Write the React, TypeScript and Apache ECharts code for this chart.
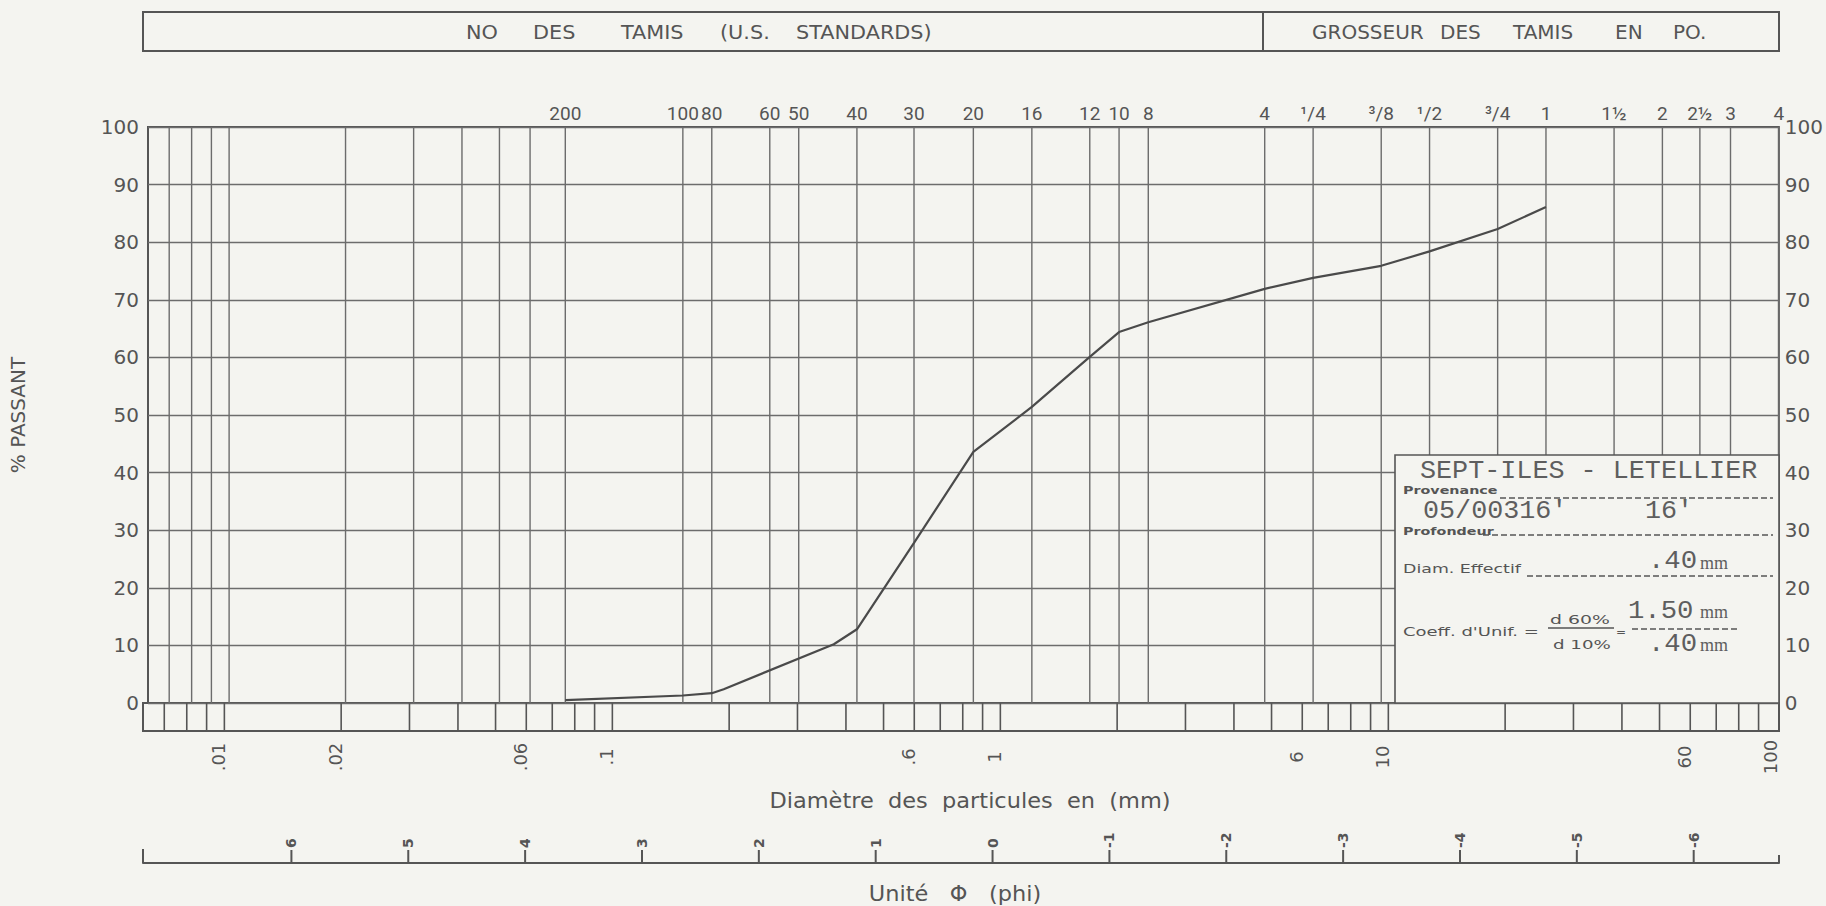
import React, { useEffect, useRef } from "react";
import * as echarts from "echarts";

const BG = "#f4f4f0";
const INK = "#555555";
const GRID_COLOR = "#6c6c6c";
const SANS = "DejaVu Sans";
const LABEL_SANS = "Roboto";
const MONO = "Liberation Mono";
const SERIF = "Liberation Serif";

// axis ranges
const X_MIN = 0.00617; // mm, left edge of the chart
const X_MAX = 101.6; // mm (4 in.), right edge
const PHI_MIN = -6.73;
const PHI_MAX = 7.27;

// fine log grid lines in the main plot (mm)
const fineGridDiam = [0.007, 0.008, 0.009, 0.01, 0.02, 0.03, 0.04, 0.05, 0.06];

// sieve numbers (U.S. standards) and sieve sizes in inches
const sieveLabels = ["200", "100", "80", "60", "50", "40", "30", "20", "16", "12", "10", "8", "4", "¹/4", "³/8", "¹/2", "³/4", "1", "1½", "2", "2½", "3", "4"];
const sieveDiam = [0.074, 0.149, 0.177, 0.25, 0.297, 0.42, 0.59, 0.84, 1.19, 1.68, 2.0, 2.38, 4.76, 6.35, 9.525, 12.7, 19.05, 25.4, 38.1, 50.8, 63.5, 76.2, 101.6];

// log ticks of the bottom strip (mm)
const stripDiam = [0.007, 0.008, 0.009, 0.01, 0.02, 0.03, 0.04, 0.05, 0.06, 0.07, 0.08, 0.09, 0.1, 0.2, 0.3, 0.4, 0.5, 0.6, 0.7, 0.8, 0.9, 1, 2, 3, 4, 5, 6, 7, 8, 9, 10, 20, 30, 40, 50, 60, 70, 80, 90];

// labelled diameters below the strip
const mmLabels = [".01", ".02", ".06", ".1", ".6", "1", "6", "10", "60", "100"];
const mmLabelDiam = [0.01, 0.02, 0.06, 0.1, 0.6, 1, 6, 10, 60, 100];

// phi scale
const phiValues = [6, 5, 4, 3, 2, 1, 0, -1, -2, -3, -4, -5, -6];
const phiLabels = ["6", "5", "4", "3", "2", "1", "0", "-1", "-2", "-3", "-4", "-5", "-6"];

// grain-size curve
const curveDiam = [0.074, 0.149, 0.177, 0.19, 0.366, 0.42, 0.59, 0.84, 1.19, 1.68, 2.0, 2.38, 4.76, 6.35, 9.525, 12.7, 19.05, 25.4];
const curvePassing = [0.5, 1.3, 1.7, 2.4, 10.2, 12.8, 27.8, 43.6, 51.4, 60.1, 64.4, 66.1, 71.9, 73.8, 75.9, 78.4, 82.3, 86.1];

// header and titles
const headerLeftWords = ["NO", "DES", "TAMIS", "(U.S.", "STANDARDS)"];
const headerRightWords = ["GROSSEUR", "DES", "TAMIS", "EN", "PO."];
const xTitle = "Diamètre  des  particules  en  (mm)";
const phiTitle = "Unité   Φ   (phi)";
const yTitle = "% PASSANT";

// info box
const infoTitle = "SEPT-ILES - LETELLIER";
const infoSample = "05/00316'";
const infoDepth = "16'";
const infoD10 = ".40";
const infoD60 = "1.50";

const vLine = (yLo: number, yHi: number, color: string, width: number) => (params: any, api: any) => {
  const d = api.value(0);
  const a = api.coord([d, yLo]);
  const b = api.coord([d, yHi]);
  return {
    type: "line",
    shape: { x1: a[0], y1: a[1], x2: b[0], y2: b[1] },
    style: { stroke: color, lineWidth: width },
  };
};

function buildOption(): any {
  const leftWordX = [466, 533, 621, 720, 796];
  const rightWordX = [1312, 1440, 1513, 1615, 1673];
  const txt = (x: number, y: number, text: string, size: number, family: string, extra: any = {}, scaleX = 1) => ({
    type: "text",
    x,
    y,
    z: 60,
    scaleX,
    style: {
      text,
      fill: INK,
      fontSize: size,
      fontFamily: family,
      align: "left",
      verticalAlign: "middle",
      ...extra,
    },
  });
  const ln = (x1: number, y1: number, x2: number, y2: number, w: number, dash?: number[]) => ({
    type: "line",
    z: 60,
    shape: { x1, y1, x2, y2 },
    style: { stroke: INK, lineWidth: w, lineDash: dash },
  });
  const TYPE = "#5e5e5e";

  const graphic: any[] = [
    // header box
    { type: "rect", z: 60, shape: { x: 143, y: 12, width: 1636, height: 39 }, style: { fill: "none", stroke: INK, lineWidth: 2 } },
    ln(1263, 12, 1263, 51, 2),
    ...headerLeftWords.map((w, i) => txt(leftWordX[i], 32, w, 20, SANS, {}, 1.04)),
    ...headerRightWords.map((w, i) => txt(rightWordX[i], 32, w, 20, SANS)),
    // axis titles
    txt(970, 801, xTitle, 21, SANS, { align: "center" }, 1.07),
    txt(955, 894, phiTitle, 21, SANS, { align: "center" }, 1.07),
    // phi end ticks
    ln(143, 849, 143, 863, 2),
    ln(1779, 855, 1779, 863, 2),
    // info box
    { type: "rect", z: 55, shape: { x: 1395, y: 455, width: 384, height: 248 }, style: { fill: BG, stroke: INK, lineWidth: 1.6 } },
    txt(1420, 471, infoTitle, 26, MONO, { fill: TYPE }, 1.03),
    txt(1403, 490, "Provenance", 11, SANS, { fontWeight: "bold" }, 1.3),
    ln(1500, 498, 1773, 498, 1.3, [6, 3]),
    txt(1423, 511, infoSample, 25, MONO, { fill: TYPE }, 1.07),
    txt(1645, 511, infoDepth, 25, MONO, { fill: TYPE }, 1.07),
    txt(1403, 531, "Profondeur", 11, SANS, { fontWeight: "bold" }, 1.3),
    ln(1483, 535, 1773, 535, 1.3, [6, 3]),
    txt(1403, 569, "Diam. Effectif", 12, SANS, {}, 1.45),
    ln(1527, 576, 1773, 576, 1.3, [6, 3]),
    txt(1648, 561, infoD10, 26, MONO, { fill: TYPE }, 1.05),
    txt(1700, 563, "mm", 18, SERIF, { fill: TYPE }),
    txt(1403, 632, "Coeff. d'Unif. =", 12, SANS, {}, 1.5),
    txt(1550, 620, "d 60%", 13, SANS, {}, 1.45),
    ln(1548, 628, 1614, 628, 1.5),
    txt(1553, 644, "d 10%", 13, SANS, {}, 1.4),
    txt(1616, 632, "=", 12, SANS),
    txt(1628, 611, infoD60, 26, MONO, { fill: TYPE }, 1.05),
    txt(1700, 612, "mm", 18, SERIF, { fill: TYPE }),
    ln(1632, 629, 1738, 629, 1.3, [6, 3]),
    txt(1648, 644, infoD10, 26, MONO, { fill: TYPE }, 1.05),
    txt(1700, 645, "mm", 18, SERIF, { fill: TYPE }),
  ];

  const hiddenAxis = { axisLine: { show: false }, axisTick: { show: false }, axisLabel: { show: false }, splitLine: { show: false } };

  return {
    animation: false,
    backgroundColor: BG,
    grid: [
      { left: 143, right: 47, top: 127, height: 576, show: true, borderColor: INK, borderWidth: 2, backgroundColor: "transparent" },
      { left: 143, right: 47, top: 703, height: 28, show: true, borderColor: INK, borderWidth: 2, backgroundColor: "transparent" },
      { left: 143, right: 47, top: 850, height: 13, show: false },
    ],
    xAxis: [
      { gridIndex: 0, type: "log", min: X_MIN, max: X_MAX, ...hiddenAxis },
      { gridIndex: 1, type: "log", min: X_MIN, max: X_MAX, ...hiddenAxis },
      {
        gridIndex: 2,
        type: "value",
        min: PHI_MIN,
        max: PHI_MAX,
        inverse: true,
        position: "bottom",
        axisLine: { show: true, onZero: false, lineStyle: { color: INK, width: 2 } },
        axisTick: { show: false },
        axisLabel: { show: false },
        splitLine: { show: false },
      },
    ],
    yAxis: [
      {
        gridIndex: 0,
        type: "value",
        min: 0,
        max: 100,
        interval: 10,
        position: "left",
        name: yTitle,
        nameLocation: "middle",
        nameGap: 120,
        nameRotate: 90,
        nameTextStyle: { color: INK, fontSize: 20, fontFamily: SANS },
        axisLine: { show: false },
        axisTick: { show: false },
        axisLabel: { margin: 9, color: INK, fontSize: 20, fontFamily: SANS },
        splitLine: { show: true, lineStyle: { color: GRID_COLOR, width: 1.4 } },
      },
      {
        gridIndex: 0,
        type: "value",
        min: 0,
        max: 100,
        interval: 10,
        position: "right",
        axisLine: { show: false },
        axisTick: { show: false },
        axisLabel: { margin: 6, color: INK, fontSize: 20, fontFamily: SANS },
        splitLine: { show: false },
      },
      { gridIndex: 1, type: "value", min: 0, max: 1, ...hiddenAxis },
      { gridIndex: 2, type: "value", min: 0, max: 1, ...hiddenAxis },
    ],
    graphic,
    series: [
      {
        type: "custom",
        name: "fine grid",
        xAxisIndex: 0,
        yAxisIndex: 0,
        silent: true,
        z: 1,
        data: fineGridDiam.concat(sieveDiam).map((d) => [d, 0]),
        renderItem: vLine(0, 100, GRID_COLOR, 1.4),
      },
      {
        type: "custom",
        name: "sieve labels",
        xAxisIndex: 0,
        yAxisIndex: 0,
        silent: true,
        z: 3,
        data: sieveDiam.map((d) => [d, 100]),
        renderItem: (params: any, api: any) => {
          const p = api.coord([api.value(0), api.value(1)]);
          return {
            type: "text",
            x: p[0],
            y: p[1] - 14,
            style: {
              text: sieveLabels[params.dataIndex],
              fill: INK,
              fontSize: 19,
              fontFamily: LABEL_SANS,
              align: "center",
              verticalAlign: "middle",
            },
          };
        },
      },
      {
        type: "custom",
        name: "strip ticks",
        xAxisIndex: 1,
        yAxisIndex: 2,
        silent: true,
        z: 1,
        data: stripDiam.map((d) => [d, 0]),
        renderItem: vLine(0, 1, INK, 1.6),
      },
      {
        type: "custom",
        name: "mm labels",
        xAxisIndex: 1,
        yAxisIndex: 2,
        silent: true,
        z: 3,
        data: mmLabelDiam.map((d) => [d, 0]),
        renderItem: (params: any, api: any) => {
          const p = api.coord([api.value(0), api.value(1)]);
          return {
            type: "text",
            x: p[0] - 6,
            y: p[1] + 26,
            rotation: Math.PI / 2,
            style: {
              text: mmLabels[params.dataIndex],
              fill: INK,
              fontSize: 18,
              fontFamily: SANS,
              align: "center",
              verticalAlign: "middle",
            },
          };
        },
      },
      {
        type: "custom",
        name: "phi scale",
        xAxisIndex: 2,
        yAxisIndex: 3,
        silent: true,
        z: 3,
        data: phiValues.map((v) => [v, 0]),
        renderItem: (params: any, api: any) => {
          const a = api.coord([api.value(0), 0]);
          const b = api.coord([api.value(0), 1]);
          return {
            type: "group",
            children: [
              { type: "line", shape: { x1: a[0], y1: a[1], x2: b[0], y2: b[1] }, style: { stroke: INK, lineWidth: 2 } },
              {
                type: "text",
                x: b[0],
                y: b[1] - 2,
                rotation: Math.PI / 2,
                style: {
                  text: phiLabels[params.dataIndex],
                  fill: INK,
                  fontSize: 14,
                  fontFamily: SANS,
                  fontWeight: "bold",
                  align: "left",
                  verticalAlign: "middle",
                },
              },
            ],
          };
        },
      },
      {
        type: "line",
        name: "% passant",
        xAxisIndex: 0,
        yAxisIndex: 0,
        z: 5,
        symbol: "none",
        showSymbol: false,
        smooth: false,
        lineStyle: { color: "#4a4a4a", width: 2.2 },
        data: curveDiam.map((d, i) => [d, curvePassing[i]]),
      },
    ],
  };
}

export default function App() {
  const ref = useRef<HTMLDivElement>(null);
  useEffect(() => {
    if (!ref.current) return;
    const chart = echarts.init(ref.current, null, { renderer: "svg" });
    chart.setOption(buildOption());
    return () => chart.dispose();
  }, []);
  return (
    <div
      ref={ref}
      style={{ position: "fixed", left: 0, top: 0, width: 1826, height: 906, background: BG }}
    />
  );
}
